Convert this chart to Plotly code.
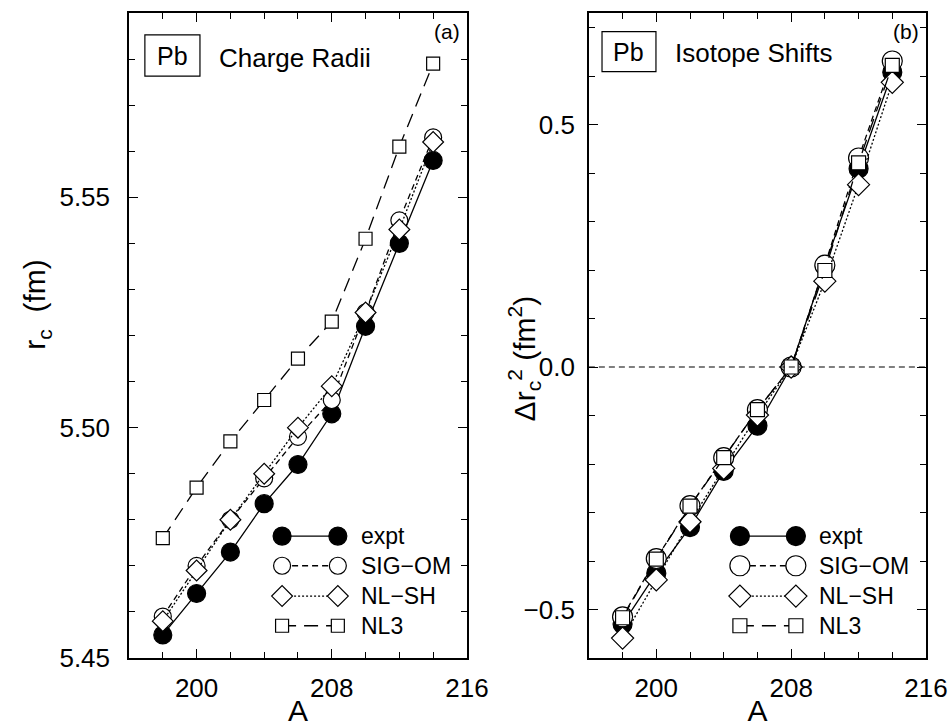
import plotly.graph_objects as go

# mass numbers of the Pb isotopes
A = [198, 200, 202, 204, 206, 208, 210, 212, 214]

# charge radii r_c (fm), panel (a)
rc_expt = [5.455, 5.464, 5.473, 5.4835, 5.492, 5.503, 5.522, 5.540, 5.558]
rc_sig = [5.459, 5.470, 5.480, 5.489, 5.498, 5.506, 5.525, 5.545, 5.563]
rc_nlsh = [5.458, 5.469, 5.480, 5.490, 5.500, 5.509, 5.525, 5.543, 5.562]
rc_nl3 = [5.476, 5.487, 5.497, 5.506, 5.515, 5.523, 5.541, 5.561, 5.579]

# isotope shifts delta r_c^2 (fm^2), panel (b)
ds_expt = [-0.530, -0.425, -0.330, -0.214, -0.121, 0.0, 0.209, 0.409, 0.608]
ds_sig = [-0.515, -0.395, -0.286, -0.187, -0.088, 0.0, 0.210, 0.431, 0.631]
ds_nlsh = [-0.559, -0.439, -0.319, -0.209, -0.099, 0.0, 0.177, 0.376, 0.587]
ds_nl3 = [-0.517, -0.396, -0.287, -0.187, -0.088, 0.0, 0.199, 0.421, 0.622]

names = ["expt", "SIG\u2212OM", "NL\u2212SH", "NL3"]

FONT = "Liberation Sans, Arial, Helvetica, sans-serif"

# style per series: marker symbol, fill, size (left/right panel), line dash
styles = [
    dict(symbol="circle", fill="black", size=(18, 19), dash="solid"),
    dict(symbol="circle", fill="white", size=(17, 20), dash="6px,4px"),
    dict(symbol="diamond", fill="white", size=(16, 17), dash="2px,2px"),
    dict(symbol="square", fill="white", size=(13, 14), dash="14px,8px"),
]

fig = go.Figure()


def add_series(x, y, st, xa, ya, k):
    fig.add_trace(go.Scatter(
        x=x, y=y, mode="lines+markers", xaxis=xa, yaxis=ya, showlegend=False,
        line=dict(color="black", width=1.3, dash=st["dash"]),
        marker=dict(symbol=st["symbol"], size=st["size"][k], color=st["fill"],
                    line=dict(color="black", width=1.2)),
    ))


for ys, st in zip([rc_expt, rc_sig, rc_nlsh, rc_nl3], styles):
    add_series(A, ys, st, "x", "y", 0)
for ys, st in zip([ds_expt, ds_sig, ds_nlsh, ds_nl3], styles):
    add_series(A, ys, st, "x2", "y2", 1)

# hand drawn legends (two markers joined by the line), in panel fractions
leg_rows = [0.189, 0.143, 0.096, 0.050]
leg_cfg = [("x3", "y3", 0.453, 0.618, 0.680, 0), ("x4", "y4", 0.448, 0.614, 0.677, 1)]
for xa, ya, x0, x1, xt, k in leg_cfg:
    for row, st, nm in zip(leg_rows, styles, names):
        add_series([x0, x1], [row, row], st, xa, ya, k)
        fig.add_annotation(x=xt, y=row, xref=xa, yref=ya, text=nm, showarrow=False,
                           xanchor="left", yanchor="middle",
                           font=dict(family=FONT, size=23, color="black"))

axis_common = dict(
    showline=True, linecolor="black", linewidth=1.5, mirror="allticks",
    ticks="inside", ticklen=9, tickwidth=1.3, tickcolor="black",
    showgrid=False, zeroline=False, automargin=False,
    tickfont=dict(family=FONT, size=26, color="black"),
)
minor = dict(ticks="inside", ticklen=6, tickwidth=1.2, tickcolor="black", showgrid=False)
xtitle = dict(text="A", font=dict(family=FONT, size=30, color="black"), standoff=4)

dom_l = [0, 0.424]
dom_r = [0.577, 1]

fig.update_layout(
    width=952, height=727,
    margin=dict(l=129, r=26, t=13, b=69),
    paper_bgcolor="white", plot_bgcolor="white",
    xaxis=dict(domain=dom_l, range=[196, 216], tickvals=[200, 208, 216],
               minor=dict(dtick=2, **minor), anchor="y", ticklabelstandoff=6,
               title=xtitle, **axis_common),
    yaxis=dict(domain=[0, 1], range=[5.45, 5.59], tickvals=[5.45, 5.50, 5.55],
               tickformat=".2f", minor=dict(dtick=0.01, **minor), anchor="x",
               ticklabelstandoff=12, **axis_common),
    xaxis2=dict(domain=dom_r, range=[196, 216], tickvals=[200, 208, 216],
                minor=dict(dtick=2, **minor), anchor="y2", ticklabelstandoff=6,
                title=xtitle, **axis_common),
    yaxis2=dict(domain=[0, 1], range=[-0.6, 0.73], tickvals=[-0.5, 0.0, 0.5],
                tickformat=".1f", minor=dict(dtick=0.1, **minor), anchor="x2",
                ticklabelstandoff=7, **axis_common),
    xaxis3=dict(overlaying="x", range=[0, 1], visible=False, anchor="y3"),
    yaxis3=dict(overlaying="y", range=[0, 1], visible=False, anchor="x3"),
    xaxis4=dict(overlaying="x2", range=[0, 1], visible=False, anchor="y4"),
    yaxis4=dict(overlaying="y2", range=[0, 1], visible=False, anchor="x4"),
)

# y axis titles, placed by hand like the original
fig.add_annotation(x=-0.116, y=0.547, xref="paper", yref="paper", text="r<sub>c</sub>  (fm)",
                   textangle=-90, showarrow=False, xanchor="center", yanchor="middle",
                   font=dict(family=FONT, size=30, color="black"))
fig.add_annotation(x=0.496, y=0.465, xref="paper", yref="paper",
                   text="\u0394r<sub>c</sub><sup>2</sup> (fm<sup>2</sup>)",
                   textangle=-90, showarrow=False, xanchor="center", yanchor="middle",
                   font=dict(family=FONT, size=30, color="black"))

# dashed zero line in panel (b)
fig.add_shape(type="line", xref="x2 domain", yref="y2", x0=0, x1=1, y0=0, y1=0,
              line=dict(color="black", width=1.2, dash="6px,4px"))

# panel labels: box x0, x1, y0, y1, title x, title y
for xa, ya, tag, title, bx0, bx1, by0, by1, tx, ty in [
        ("x3", "y3", "(a)", "Charge Radii", 0.047, 0.210, 0.902, 0.966, 0.260, 0.930),
        ("x4", "y4", "(b)", "Isotope Shifts", 0.039, 0.199, 0.909, 0.971, 0.249, 0.938)]:
    fig.add_shape(type="rect", xref=xa, yref=ya, x0=bx0, x1=bx1, y0=by0, y1=by1,
                  line=dict(color="black", width=1.2), fillcolor="white")
    fig.add_annotation(x=(bx0 + bx1) / 2, y=(by0 + by1) / 2, xref=xa, yref=ya, text="Pb",
                       showarrow=False, xanchor="center", yanchor="middle",
                       font=dict(family=FONT, size=25, color="black"))
    fig.add_annotation(x=tx, y=ty, xref=xa, yref=ya, text=title, showarrow=False,
                       xanchor="left", yanchor="middle",
                       font=dict(family=FONT, size=26, color="black"))
    fig.add_annotation(x=0.985, y=0.992, xref=xa, yref=ya, text=tag, showarrow=False,
                       xanchor="right", yanchor="top",
                       font=dict(family=FONT, size=21, color="black"))

fig.write_html("out.html", config={"displayModeBar": False},
               post_script="document.body.style.margin='0px';")
